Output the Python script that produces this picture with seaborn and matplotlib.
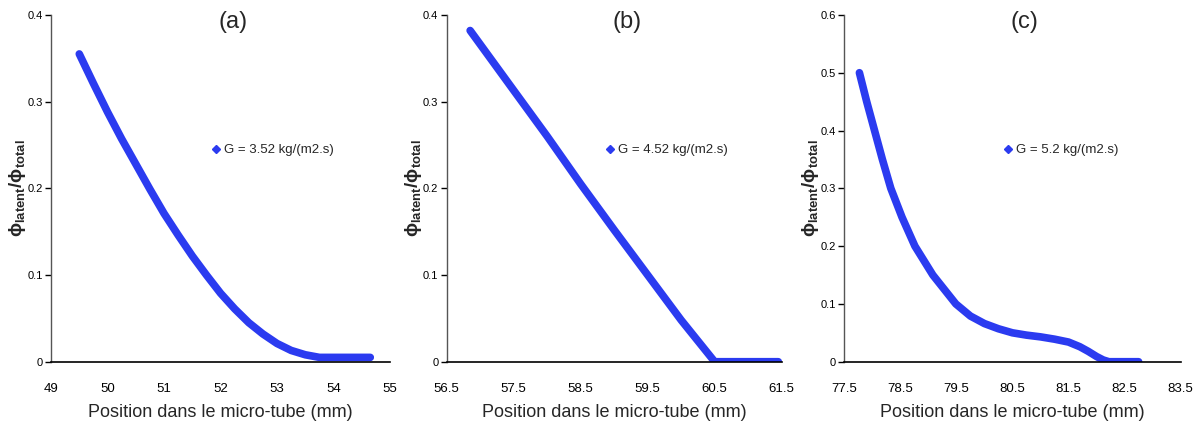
import seaborn as sns
import matplotlib
matplotlib.use('Agg')
import matplotlib.pyplot as plt
import pandas as pd
from matplotlib.lines import Line2D
from matplotlib.ticker import FuncFormatter

# donnees
x_a = [49.5, 49.75, 50.0, 50.25, 50.5, 50.75, 51.0, 51.25, 51.5, 51.75, 52.0, 52.25,
       52.5, 52.75, 53.0, 53.25, 53.5, 53.75, 54.0, 54.65]
y_a = [0.355, 0.321, 0.288, 0.257, 0.228, 0.199, 0.171, 0.146, 0.122, 0.1, 0.079, 0.061,
       0.045, 0.032, 0.021, 0.013, 0.008, 0.005, 0.005, 0.005]

x_b = [56.85, 57.5, 58.0, 58.5, 59.0, 59.5, 60.0, 60.5, 61.0, 61.45]
y_b = [0.382, 0.313, 0.26, 0.205, 0.152, 0.1, 0.048, 0.0, 0.0, 0.0]

x_c = [77.77, 77.9, 78.04, 78.18, 78.33, 78.53, 78.76, 79.08, 79.49, 79.75, 80.0, 80.25,
       80.5, 80.75, 81.0, 81.25, 81.5, 81.7, 81.85, 82.0, 82.12, 82.22, 82.75]
y_c = [0.5, 0.45, 0.4, 0.35, 0.3, 0.25, 0.2, 0.15, 0.1, 0.079, 0.066, 0.057,
       0.05, 0.046, 0.043, 0.039, 0.034, 0.026, 0.018, 0.009, 0.003, 0.0, 0.0]

etiquettes = ['(a)', '(b)', '(c)']
legendes = ['G = 3.52 kg/(m2.s)', 'G = 4.52 kg/(m2.s)', 'G = 5.2 kg/(m2.s)']
xlims = [(49, 55), (56.5, 61.5), (77.5, 83.5)]
ylims = [(0, 0.4), (0, 0.4), (0, 0.6)]
xticks = [[49, 50, 51, 52, 53, 54, 55],
          [56.5, 57.5, 58.5, 59.5, 60.5, 61.5],
          [77.5, 78.5, 79.5, 80.5, 81.5, 82.5, 83.5]]
yticks = [[0, 0.1, 0.2, 0.3, 0.4], [0, 0.1, 0.2, 0.3, 0.4], [0, 0.1, 0.2, 0.3, 0.4, 0.5, 0.6]]

sns.set_style('white')
plt.rcParams['font.family'] = ['Liberation Sans', 'DejaVu Sans']
plt.rcParams['mathtext.fontset'] = 'custom'
plt.rcParams['mathtext.rm'] = 'Liberation Sans'
plt.rcParams['mathtext.it'] = 'Liberation Sans:italic'
plt.rcParams['mathtext.bf'] = 'Liberation Sans:bold'
bleu = '#2B3BF0'

fig = plt.figure(figsize=(11.95, 4.30), dpi=100)
positions = [[0.0427, 0.1588, 0.2837, 0.8065],
             [0.3738, 0.1588, 0.2803, 0.8065],
             [0.7065, 0.1588, 0.2815, 0.8065]]
ylabel_x = [-0.068, -0.068, -0.068]

donnees = [(x_a, y_a), (x_b, y_b), (x_c, y_c)]
for i, (xs, ys) in enumerate(donnees):
    ax = fig.add_axes(positions[i])
    df = pd.DataFrame({'x': xs, 'y': ys})
    sns.lineplot(data=df, x='x', y='y', ax=ax, sort=False, color=bleu,
                 linewidth=5.5, solid_capstyle='round', solid_joinstyle='round')
    ax.set_xlim(*xlims[i])
    ax.set_ylim(*ylims[i])
    ax.set_xticks(xticks[i])
    ax.set_yticks(yticks[i])
    ax.xaxis.set_major_formatter(FuncFormatter(lambda v, p: '%g' % v))
    ax.yaxis.set_major_formatter(FuncFormatter(lambda v, p: '%g' % v))
    for s in ['top', 'right']:
        ax.spines[s].set_visible(False)
    ax.spines['bottom'].set_color('black')
    ax.spines['bottom'].set_linewidth(1.2)
    ax.spines['left'].set_color('#555555')
    ax.spines['left'].set_linewidth(1.0)
    ax.tick_params(axis='x', direction='inout', length=7, width=1, pad=12,
                   labelsize=9.5, colors='black')
    ax.tick_params(axis='y', direction='out', length=4, width=1, pad=2,
                   labelsize=8, colors='black', left=True)
    ax.set_xlabel('Position dans le micro-tube (mm)', fontsize=13, labelpad=6)
    ax.set_ylabel(r'$\mathbf{\phi_{latent}/\phi_{total}}$', fontsize=13.5)
    ax.yaxis.set_label_coords(ylabel_x[i], 0.5)
    ax.text(0.537, 0.98, etiquettes[i], transform=ax.transAxes, fontsize=17,
            ha='center', va='center')
    poignee = Line2D([], [], color=bleu, marker='D', markersize=4.5, linestyle='None')
    ax.legend([poignee], [legendes[i]], loc='center left', bbox_to_anchor=(0.44, 0.61),
              frameon=False, fontsize=9.5, handlelength=0.6, handletextpad=0.3)
    ax.grid(False)

fig.savefig('out.png', dpi=100)
